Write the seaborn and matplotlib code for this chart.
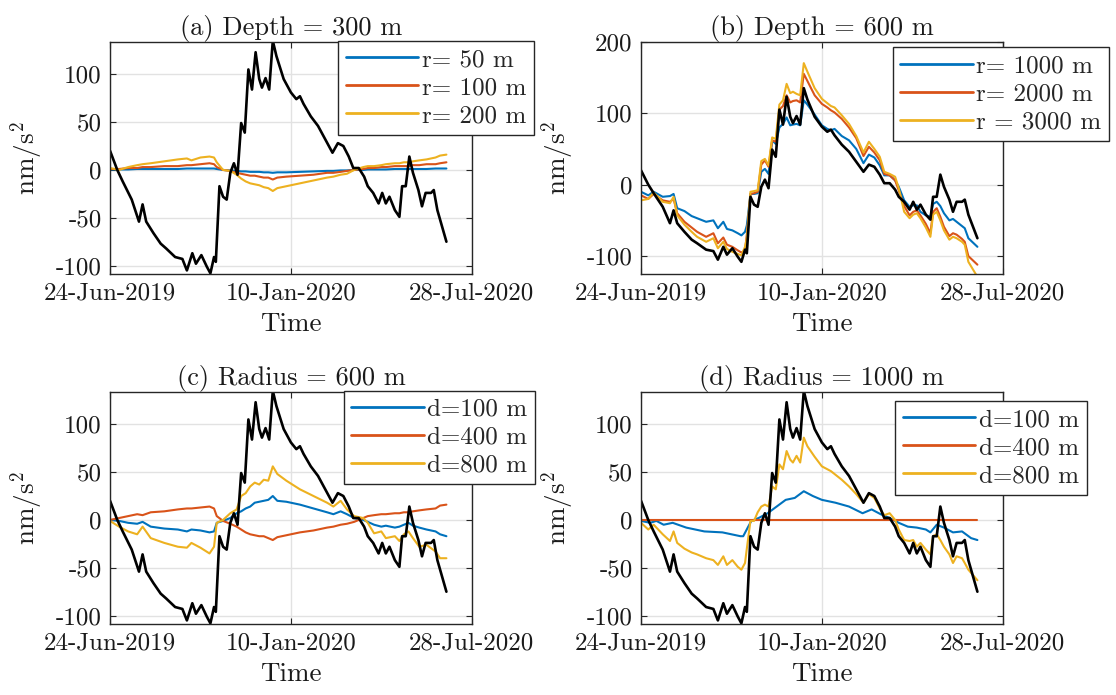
import pandas as pd
import seaborn as sns
import matplotlib
matplotlib.use("Agg")
import matplotlib.pyplot as plt

# Time axis: days since 24-Jun-2019
START = pd.Timestamp("2019-06-24")
XTICK_DAYS = [0, 200, 400]
XTICK_LABELS = ["24-Jun-2019", "10-Jan-2020", "28-Jul-2020"]

# observed signal (black line), shared by all panels
days_k = [0, 8, 14, 24, 32, 36, 40, 48, 56, 62,
          72, 80, 85, 91, 95, 101, 107, 111, 115, 117,
          121, 125, 129, 133, 137, 141, 145, 149, 153, 157,
          161, 165, 168, 172, 176, 180, 184, 192, 200, 206,
          210, 214, 222, 230, 238, 246, 252, 258, 264, 269,
          275, 281, 285, 291, 297, 301, 305, 309, 315, 320,
          323, 327, 331, 335, 341, 345, 349, 355, 358, 362,
          372]
black = [20, 0, -12, -31, -54, -36, -54, -66, -77, -82,
         -91, -93, -105, -87, -98, -89, -101, -108, -91, -96,
         -17, -28, -31, -3, 7, -5, 49, 39, 105, 84,
         123, 95, 86, 96, 84, 135, 119, 95, 81, 74,
         77, 69, 56, 46, 32, 18, 28, 25, 14, 2,
         2, -7, -17, -24, -35, -24, -35, -28, -42, -49,
         -17, -17, 14, -3, -21, -38, -24, -24, -21, -42,
         -75]

# panel (b), same days as black
blue_b = [-10, -15, -10, -17, -16, -13, -33, -37, -44, -47,
          -52, -50, -61, -52, -62, -64, -68, -71, -66, -57,
          -13, -13, -12, 18, 22, 15, 62, 57, 80, 85,
          94, 83, 84, 85, 83, 118, 112, 98, 83, 78,
          76, 78, 68, 62, 50, 30, 42, 38, 27, 13,
          13, 6, -3, -22, -31, -29, -29, -38, -43, -45,
          -27, -24, -30, -40, -50, -48, -52, -58, -61, -75,
          -87]
orange_b = [-15, -20, -13, -22, -24, -20, -40, -52, -60, -66,
            -73, -68, -82, -74, -84, -87, -92, -95, -92, -70,
            -13, -12, -10, 28, 34, 25, 62, 60, 105, 110,
            125, 115, 117, 118, 115, 155, 145, 125, 113, 108,
            104, 101, 92, 80, 65, 40, 53, 45, 34, 15,
            13, 6, -8, -30, -43, -38, -36, -43, -55, -68,
            -38, -33, -45, -59, -72, -68, -70, -76, -80, -100,
            -112]
yellow_b = [-22, -20, -11, -24, -26, -17, -43, -56, -66, -73,
            -80, -75, -89, -80, -90, -94, -97, -99, -87, -75,
            -10, -9, -8, 33, 36, 27, 66, 64, 112, 118,
            141, 128, 130, 127, 125, 170, 158, 135, 120, 114,
            110, 108, 97, 85, 68, 45, 60, 50, 39, 18,
            15, 11, -5, -38, -47, -42, -40, -47, -60, -73,
            -42, -38, -50, -64, -77, -73, -75, -80, -84, -108,
            -129]

# panels (a) and (c)
days_c = [0, 10, 20, 30, 36, 45, 60, 75, 85, 90,
          100, 110, 115, 118, 125, 133, 140, 145, 150, 155,
          160, 165, 170, 175, 180, 185, 195, 210, 225, 240,
          247, 255, 262, 270, 280, 285, 292, 300, 305, 315,
          320, 325, 330, 335, 342, 350, 360, 365, 372]
blue_a = [0.5, 0.5, 0.5, 1, 1, 1, 1, 1, 1.5, 1.5,
          1.5, 1.5, 1.5, 1, 0, -0.5, -1, -1.5, -1.5, -2,
          -2, -2, -2.5, -2.5, -3, -2.5, -2.5, -2, -1.5, -1,
          -1, -0.5, -0.5, 0, 0, 0.5, 0.5, 0.5, 0.5, 1,
          1, 1, 1, 1, 1, 1, 1.5, 1.5, 1.5]
orange_a = [1, 1, 2, 2, 3, 3, 4, 4, 5, 5,
            6, 7, 6, 3, 0, -1, -3, -4, -5, -6,
            -6, -7, -8, -8, -10, -8, -7, -6, -5, -3,
            -3, -2, -1, 0, 1, 2, 2, 3, 3, 4,
            4, 4, 4, 5, 5, 6, 6, 7, 8]
yellow_a = [2, 0, 3, 5, 6, 7, 9, 11, 12, 10,
            13, 14, 13, 8, 0, -1, -5, -9, -12, -14,
            -15, -16, -18, -19, -22, -19, -17, -14, -11, -8,
            -7, -5, -4, 0, 3, 4, 4, 5, 6, 7,
            7, 8, 8, 9, 10, 11, 13, 15, 16]
blue_c = [0, -1, -3, -4, -2, -7, -9, -10, -12, -10,
          -11, -13, -12, -3, -1, 2, 7, 9, 12, 14,
          18, 19, 20, 21, 25, 20, 19, 16, 12, 8,
          6, 9, 6, 2, 0, -2, -5, -7, -6, -8,
          -7, -5, -3, -6, -8, -10, -12, -15, -17]
orange_c = [0, 2, 4, 6, 5, 8, 9, 11, 12, 12,
            13, 14, 12, 4, -1, -4, -7, -10, -13, -15,
            -16, -17, -17, -19, -21, -18, -16, -13, -11, -8,
            -7, -5, -4, -2, 2, 4, 5, 6, 6, 7,
            7, 8, 8, 9, 10, 11, 12, 15, 16]
yellow_c = [-1, -7, -12, -15, -7, -19, -24, -28, -29, -24,
            -29, -35, -28, -3, 0, 7, 11, 25, 28, 35,
            39, 37, 42, 41, 56, 48, 41, 32, 25, 18,
            14, 20, 11, 4, 2, -3, -14, -12, -19, -17,
            -22, -15, -12, -19, -28, -26, -33, -40, -40]

# panel (d)
days_d = [0, 10, 17, 25, 35, 50, 70, 90, 100, 110,
          113, 118, 122, 130, 140, 150, 160, 170, 180, 190,
          200, 215, 230, 245, 255, 265, 275, 285, 295, 305,
          315, 320, 327, 335, 345, 355, 365, 372]
blue_d = [-1, -3, -1, -5, -3, -8, -12, -13, -15, -17,
          -17, -8, -1, 2, 7, 14, 21, 23, 30, 25,
          21, 18, 14, 7, 11, 6, 2, -3, -7, -8,
          -10, -13, -5, -8, -13, -12, -19, -21]
orange_d_days = [0, 372]
orange_d = [0, 0]
yellow_d = [-3, -10, -5, -15, -22, -12, -24, -30, -34, -36,
            -40, -42, -47, -38, -47, -42, -49, -52, -45, -30,
            -1, -1, 8, 14, 16, 14, 35, 32, 58, 53,
            72, 63, 60, 67, 60, 86, 77, 66, 56, 53,
            51, 48, 42, 35, 27, 18, 27, 23, 12, 5,
            7, 0, -10, -21, -22, -21, -28, -24, -31, -36,
            -17, -15, -21, -28, -36, -45, -38, -40, -45, -52,
            -63]

BLUE, ORANGE, YELLOW = "#0072BD", "#D95319", "#EDB120"
EDGE = "#262626"
TXT = "#1a1a1a"
FS = 18


def to_dates(days):
    return START + pd.to_timedelta(days, unit="D")


def draw_panel(fig, rect, title, series, yticks, ylim, leg_anchor):
    ax = fig.add_axes(rect)
    for label, days, vals, color in series:
        sns.lineplot(x=to_dates(days), y=vals, ax=ax, color=color,
                     linewidth=1.5, label=label)
    sns.lineplot(x=to_dates(days_k), y=black, ax=ax, color="black",
                 linewidth=1.9, label="_nolegend_")

    ax.set_xlim(to_dates([0])[0], to_dates([400])[0])
    ax.set_xticks(to_dates(XTICK_DAYS))
    ax.set_xticklabels(XTICK_LABELS)
    ax.set_ylim(*ylim)
    ax.set_yticks(yticks)
    ax.set_yticklabels([str(t) for t in yticks])

    ax.grid(True, color="#e2e2e2", linewidth=1.0)
    ax.set_axisbelow(True)
    for sp in ax.spines.values():
        sp.set_color(EDGE)
        sp.set_linewidth(1.0)
    ax.tick_params(direction="in", length=4, width=0.8, top=True, right=True,
                   labelsize=FS, colors=EDGE, labelcolor=TXT, pad=6)

    ax.set_title(title, fontsize=19, pad=5, color=TXT)
    ax.set_xlabel("Time", fontsize=19.5, color=TXT)
    ax.set_ylabel(r"nm/s$^2$", fontsize=19.5, color=TXT)
    ax.xaxis.set_label_coords(0.5, -0.165)
    ax.yaxis.set_label_coords(-0.18, 0.5)

    handles, labels = ax.get_legend_handles_labels()
    keep = [(h, l) for h, l in zip(handles, labels) if not l.startswith("_")]
    leg = ax.legend([h for h, _ in keep], [l for _, l in keep],
                    loc="upper left", bbox_to_anchor=leg_anchor,
                    bbox_transform=fig.transFigure, borderaxespad=0,
                    fontsize=FS, handlelength=2.9, handletextpad=0.15,
                    labelspacing=0.22, borderpad=0.3, fancybox=False,
                    framealpha=1, edgecolor=EDGE)
    leg.get_frame().set_linewidth(1.0)
    for line in leg.get_lines():
        line.set_linewidth(2.0)
    return ax


sns.set_style("ticks")
plt.rcParams["font.family"] = ["cmr10", "DejaVu Serif"]
plt.rcParams["mathtext.fontset"] = "cm"
plt.rcParams["axes.unicode_minus"] = False
plt.rcParams["axes.formatter.use_mathtext"] = True

fig = plt.figure(figsize=(11.16, 6.95), dpi=100)

W, H = 0.3241, 0.3342
LEFT1, LEFT2 = 0.0986, 0.5744
TOP_ROW, BOT_ROW = 0.6058, 0.1022
Y5 = [-100, -50, 0, 50, 100]

draw_panel(fig, [LEFT1, TOP_ROW, W, H], "(a) Depth = 300 m",
           [("r= 50 m", days_c, blue_a, BLUE),
            ("r= 100 m", days_c, orange_a, ORANGE),
            ("r= 200 m", days_c, yellow_a, YELLOW)],
           Y5, (-108.7, 134), (0.3031, 0.941))

draw_panel(fig, [LEFT2, TOP_ROW, W, H], "(b) Depth = 600 m",
           [("r= 1000 m", days_k, blue_b, BLUE),
            ("r= 2000 m", days_k, orange_b, ORANGE),
            ("r = 3000 m", days_k, yellow_b, YELLOW)],
           [-100, 0, 100, 200], (-125, 200), (0.7999, 0.932))

draw_panel(fig, [LEFT1, BOT_ROW, W, H], "(c) Radius = 600 m",
           [("d=100 m", days_c, blue_c, BLUE),
            ("d=400 m", days_c, orange_c, ORANGE),
            ("d=800 m", days_c, yellow_c, YELLOW)],
           Y5, (-108.7, 134), (0.3079, 0.4378))

draw_panel(fig, [LEFT2, BOT_ROW, W, H], "(d) Radius = 1000 m",
           [("d=100 m", days_d, blue_d, BLUE),
            ("d=400 m", orange_d_days, orange_d, ORANGE),
            ("d=800 m", days_k, yellow_d, YELLOW)],
           Y5, (-108.7, 134), (0.8022, 0.423))

fig.savefig("out.png", dpi=100)
